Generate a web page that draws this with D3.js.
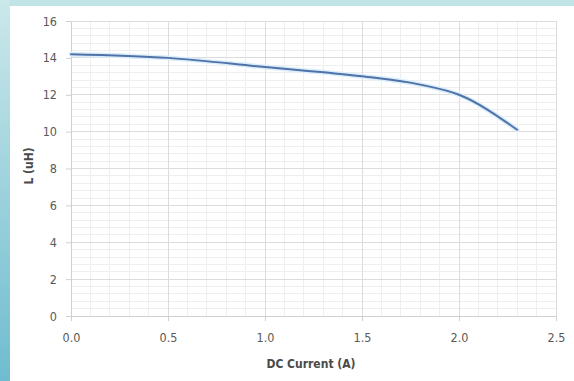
<!DOCTYPE html>
<html><head><meta charset="utf-8">
<script src="https://cdn.jsdelivr.net/npm/d3@7"></script>
<style>
html,body{margin:0;padding:0;width:574px;height:381px;overflow:hidden;background:#fff;}
svg text{font-family:"Liberation Sans Narrow","DejaVu Sans Condensed","Liberation Sans",sans-serif;}
</style></head>
<body>
<svg id="chart" width="574" height="381"></svg>
<script>
const currentA = [0, 0.5, 1.0, 1.5, 1.8, 2.0, 2.3];
const inductanceUH = [14.2, 14.0, 13.5, 13.0, 12.55, 12.0, 10.1];
const xTicks = [0, 0.5, 1.0, 1.5, 2.0, 2.5];
const yTicks = [0, 2, 4, 6, 8, 10, 12, 14, 16];
const xTitle = "DC Current (A)";
const yTitle = "L (uH)";

const svg = d3.select("#chart");
const defs = svg.append("defs");
const lg = defs.append("linearGradient").attr("id","side").attr("x1",0).attr("y1",0).attr("x2",0).attr("y2",1);
lg.append("stop").attr("offset","0%").attr("stop-color","#cbe8ea");
lg.append("stop").attr("offset","100%").attr("stop-color","#6fbcd0");

svg.append("rect").attr("x",0).attr("y",0).attr("width",574).attr("height",381).attr("fill","#fff");
svg.append("rect").attr("x",0).attr("y",0).attr("width",574).attr("height",6).attr("fill","#c0e3e6");
svg.append("rect").attr("x",0).attr("y",0).attr("width",10).attr("height",381).attr("fill","url(#side)");

const L = 71, R = 556, T = 21, B = 316;
const x = d3.scaleLinear().domain([0, 2.5]).range([L, R]);
const y = d3.scaleLinear().domain([0, 16]).range([B, T]);

// minor gridlines
const g = svg.append("g");
g.selectAll("line.mx").data(d3.range(0, 26).map(i => i/10)).join("line")
  .attr("x1", d => x(d)).attr("x2", d => x(d)).attr("y1", T).attr("y2", B)
  .attr("stroke", "#efefef").attr("stroke-width", 1).attr("shape-rendering","crispEdges");
g.selectAll("line.my").data(d3.range(0, 41).map(i => i*0.4)).join("line")
  .attr("y1", d => y(d)).attr("y2", d => y(d)).attr("x1", L).attr("x2", R)
  .attr("stroke", "#efefef").attr("stroke-width", 1).attr("shape-rendering","crispEdges");
// major gridlines
g.selectAll("line.Mx").data(xTicks).join("line")
  .attr("x1", d => x(d)).attr("x2", d => x(d)).attr("y1", T).attr("y2", B)
  .attr("stroke", "#dcdcdc").attr("stroke-width", 1).attr("shape-rendering","crispEdges");
g.selectAll("line.My").data(yTicks).join("line")
  .attr("y1", d => y(d)).attr("y2", d => y(d)).attr("x1", L).attr("x2", R)
  .attr("stroke", "#dcdcdc").attr("stroke-width", 1).attr("shape-rendering","crispEdges");

// axes
const xAxis = svg.append("g").attr("transform", `translate(0,${B})`)
  .call(d3.axisBottom(x).tickValues(xTicks).tickFormat(d3.format(".1f")).tickSizeInner(5).tickSizeOuter(0).tickPadding(12));
const yAxis = svg.append("g").attr("transform", `translate(${L},0)`)
  .call(d3.axisLeft(y).tickValues(yTicks).tickFormat(d3.format("d")).tickSizeInner(5).tickSizeOuter(0).tickPadding(9));
[xAxis, yAxis].forEach(a => {
  a.select(".domain").attr("stroke", "#d0d0d0");
  a.selectAll(".tick line").attr("stroke", "#d0d0d0");
  a.selectAll(".tick text").attr("fill", "#5a5a5a").attr("font-size", 12.5);
});

// line
const pts = currentA.map((c, i) => [c, inductanceUH[i]]);
const line = d3.line().x(d => x(d[0])).y(d => y(d[1])).curve(d3.curveMonotoneX);
svg.append("path").datum(pts).attr("d", line).attr("fill","none")
  .attr("stroke","#dbeefa").attr("stroke-width",5).attr("stroke-linecap","round");
svg.append("path").datum(pts).attr("d", line).attr("fill","none")
  .attr("stroke","#4f72a8").attr("stroke-width",2).attr("stroke-linecap","round");

// titles
svg.append("text").attr("x", 311).attr("y", 368).attr("text-anchor","middle")
  .attr("font-size", 12).attr("font-weight","bold").attr("fill","#4a4a4a").text(xTitle);
svg.append("text").attr("transform","translate(33,166) rotate(-90)").attr("text-anchor","middle")
  .attr("font-size", 12).attr("font-weight","bold").attr("fill","#4a4a4a").text(yTitle);
</script>
</body></html>
